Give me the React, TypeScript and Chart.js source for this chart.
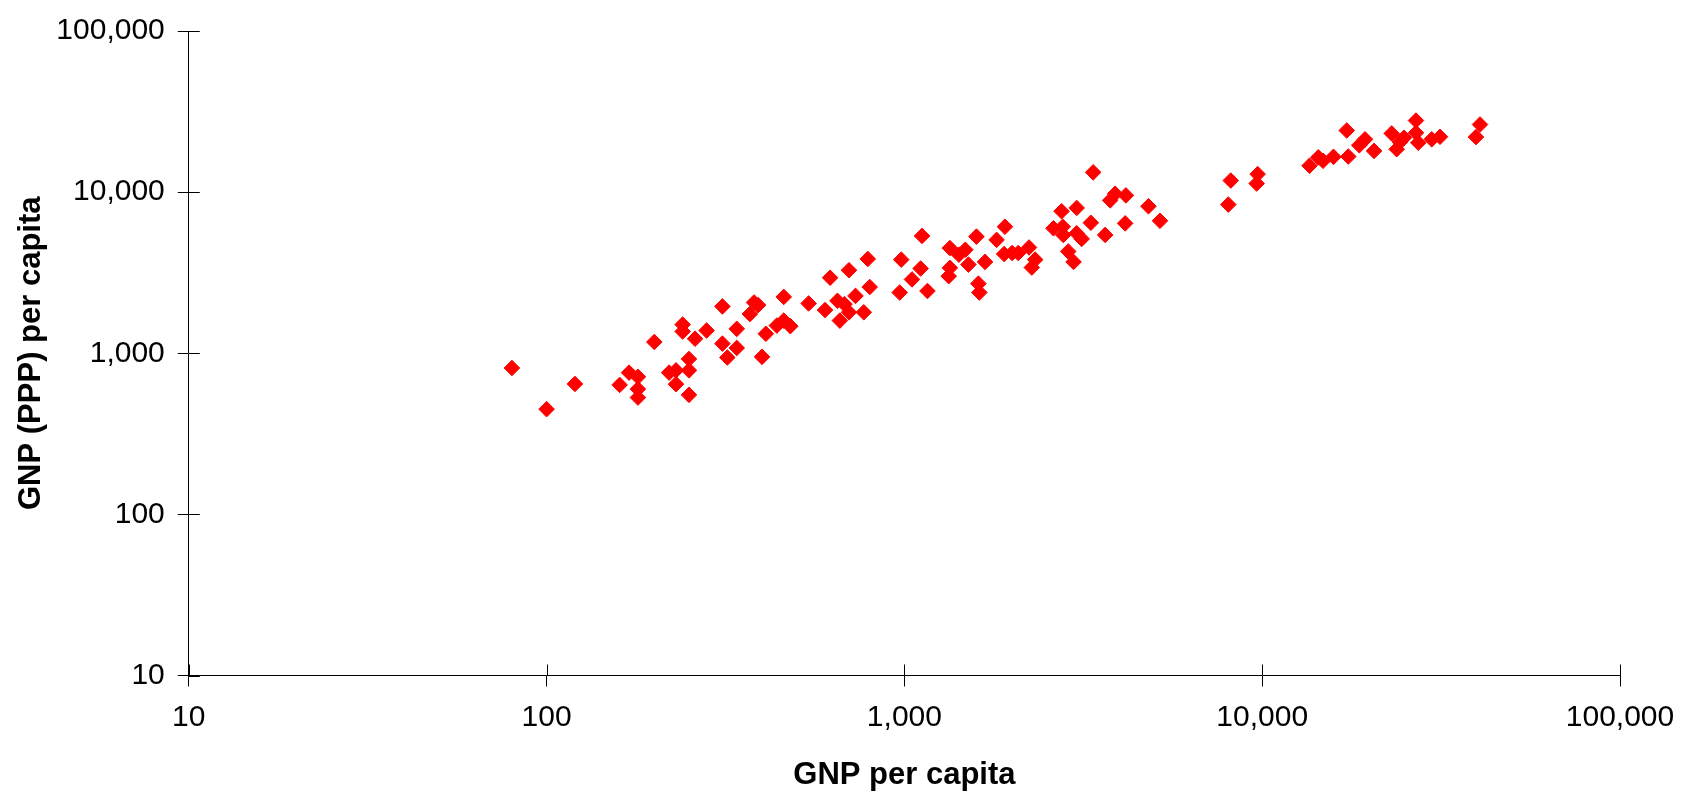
import React, { useEffect, useRef } from "react";
import { Chart, registerables } from "chart.js";

Chart.register(...registerables);

const gnpPerCapita = [
  80, 100, 120, 160, 170, 180, 180, 180, 200, 220,
  230, 230, 250, 250, 250, 240, 240, 260, 280, 310,
  310, 320, 340, 340, 370, 380, 390, 400, 410, 440,
  460, 480, 460, 540, 600, 620, 650, 680, 700, 700,
  660, 730, 770, 790, 800, 970, 980, 1050, 1110, 1120,
  1160, 1340, 1340, 1330, 1420, 1480, 1510, 1590, 1610, 1620,
  1680, 1810, 1910, 1900, 2000, 2080, 2230, 2320, 2270, 2610,
  2750, 3030, 2770, 2780, 3030, 3130, 3320, 2870, 2970, 3370,
  3640, 3880, 3760, 4160, 4140, 4810, 5180, 8170, 8040, 9710,
  9650, 13560, 14350, 14790, 15820, 17400, 17230, 18680, 19380, 20540,
  23010, 23760, 24270, 24900, 26900, 26900, 27310, 29770, 31400, 40620, 39580,
];

const gnpPppPerCapita = [
  810, 450, 645, 636, 758, 714, 599, 531, 1175, 758,
  783, 643, 921, 783, 552, 1506, 1365, 1231, 1384, 1953,
  1147, 941, 1417, 1079, 1752, 2067, 1990, 950, 1321, 1485,
  1594, 1473, 2237, 2038, 1854, 2942, 2115, 2017, 3276, 1795,
  1594, 2269, 1795, 3848, 2576, 2381, 3811, 2872, 3356, 5348,
  2435, 4496, 3389, 3009, 4090, 4388, 3550, 5295, 2704, 2381,
  3689, 5054, 6100, 4129, 4189, 4189, 4533, 3811, 3403, 5964,
  7612, 7976, 6100, 5425, 5556, 5126, 6453, 4284, 3689, 13268,
  5425, 9777, 8893, 9545, 6399, 8171, 6639, 11798, 8369, 12935,
  11307, 14583, 16438, 15647, 16558, 16630, 24136, 19535, 21270, 18023,
  23135, 18462, 20464, 21756, 27810, 23337, 20263, 21270, 22059, 26280, 21962,
];

const tickValues = [10, 100, 1000, 10000, 100000];
const xTitle = "GNP per capita";
const yTitle = "GNP (PPP) per capita";

const FONT = "'Liberation Sans', Arial, Helvetica, sans-serif";
const TICK_LEN = 11;

const crossTicks = {
  id: "crossTicks",
  afterDraw(chart: any) {
    const { ctx, chartArea } = chart;
    const xs = chart.scales.x;
    const ys = chart.scales.y;
    ctx.save();
    ctx.strokeStyle = "#000";
    ctx.lineWidth = 1;
    ctx.beginPath();
    xs.ticks.forEach((t: any) => {
      const px = Math.round(xs.getPixelForValue(t.value)) + 0.5;
      ctx.moveTo(px, chartArea.bottom);
      ctx.lineTo(px, chartArea.bottom - TICK_LEN);
    });
    ys.ticks.forEach((t: any) => {
      const py = Math.round(ys.getPixelForValue(t.value)) + 0.5;
      ctx.moveTo(chartArea.left, py);
      ctx.lineTo(chartArea.left + TICK_LEN, py);
    });
    ctx.stroke();
    ctx.restore();
  },
};

export default function App() {
  const ref = useRef<HTMLCanvasElement | null>(null);

  useEffect(() => {
    if (!ref.current) return;
    const points = gnpPerCapita.map((x, i) => ({ x, y: gnpPppPerCapita[i] }));
    const setTicks = (scale: any) => {
      scale.ticks = tickValues.map((v) => ({ value: v }));
    };
    const fmt = (v: any) => Number(v).toLocaleString("en-US");
    const chart = new Chart(ref.current, {
      type: "scatter",
      data: {
        datasets: [
          {
            data: points,
            pointStyle: "rectRot",
            pointRadius: 7.8,
            pointBorderWidth: 1,
            backgroundColor: "#FF0000",
            borderColor: "#FF0000",
          },
        ],
      },
      options: {
        animation: false,
        responsive: false,
        devicePixelRatio: 1,
        layout: { padding: { left: 0, top: 23.7, right: 72, bottom: 0 } },
        plugins: {
          legend: { display: false },
          tooltip: { enabled: false },
        },
        scales: {
          x: {
            type: "logarithmic",
            min: 10,
            max: 100000,
            afterBuildTicks: setTicks,
            afterFit: (s: any) => {
              s.height = 118.5;
            },
            grid: {
              drawOnChartArea: false,
              drawTicks: true,
              tickLength: TICK_LEN,
              color: "#000",
            },
            border: { display: true, color: "#000", width: 1 },
            ticks: {
              autoSkip: false,
              maxRotation: 0,
              padding: 13,
              color: "#000",
              font: { family: FONT, size: 30 },
              callback: fmt,
            },
            title: {
              display: true,
              text: xTitle,
              color: "#000",
              font: { family: FONT, size: 31, weight: "bold" },
              padding: { top: 0, bottom: 0 },
            },
          },
          y: {
            type: "logarithmic",
            min: 10,
            max: 100000,
            afterBuildTicks: setTicks,
            afterFit: (s: any) => {
              s.width = 188.8;
            },
            grid: {
              drawOnChartArea: false,
              drawTicks: true,
              tickLength: TICK_LEN,
              color: "#000",
            },
            border: { display: true, color: "#000", width: 1 },
            ticks: {
              autoSkip: false,
              padding: 13,
              color: "#000",
              font: { family: FONT, size: 30 },
              callback: fmt,
            },
            title: {
              display: true,
              text: yTitle,
              color: "#000",
              font: { family: FONT, size: 31, weight: "bold" },
              padding: { top: 13, bottom: 0 },
            },
          },
        },
      },
      plugins: [crossTicks],
    } as any);
    return () => chart.destroy();
  }, []);

  return (
    <div style={{ position: "absolute", left: 0, top: 0, width: 1692, height: 794, background: "#fff" }}>
      <canvas ref={ref} width={1692} height={794} style={{ width: 1692, height: 794, display: "block" }} />
    </div>
  );
}
